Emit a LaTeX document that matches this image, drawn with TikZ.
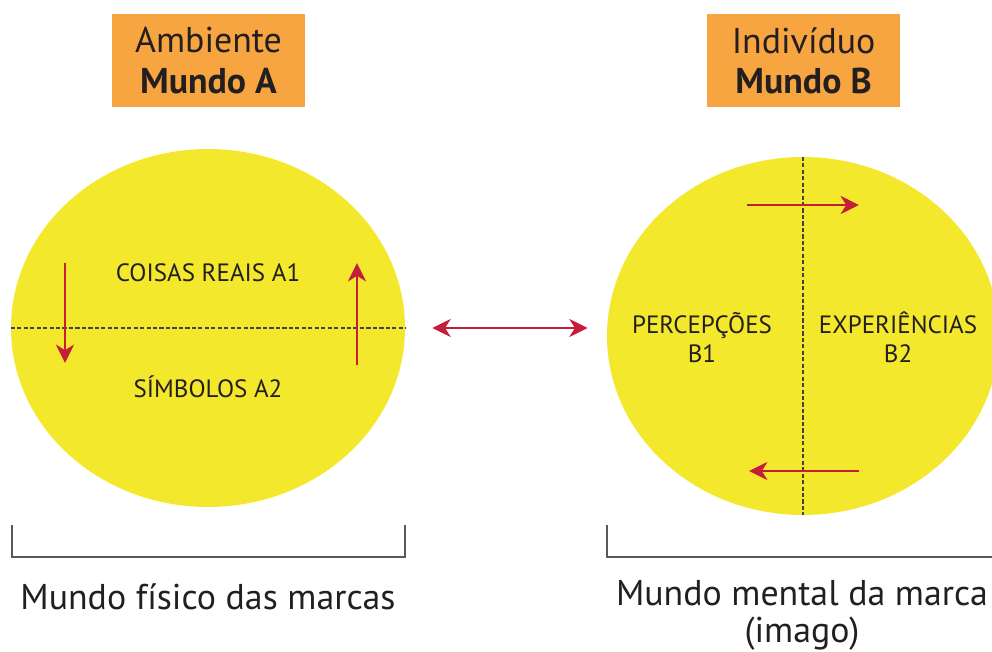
\documentclass[tikz,border=0pt]{standalone}
\usepackage{fontspec}
\setmainfont{PT Sans}
\usetikzlibrary{arrows.meta,shapes.geometric}
\definecolor{amarelo}{HTML}{F4E82C}
\definecolor{laranja}{HTML}{F7A541}
\definecolor{vermelho}{HTML}{C41E3A}
\definecolor{texto}{HTML}{231F20}
\tikzset{
  caixa/.style={fill=laranja, minimum width=4.825cm, minimum height=2.325cm, align=center, text=texto, font=\fontsize{25.5}{28.5}\selectfont},
  mundo/.style={ellipse, fill=amarelo, inner sep=0pt, minimum height=8.95cm},
  seta/.style={line width=1.7pt, color=vermelho, -{Stealth[length=4.6mm,width=4.5mm,inset=1.4mm]}},
  divisa/.style={dash pattern=on 3pt off 1.6pt, line width=0.9pt, color=texto!85},
  rotulo/.style={text=texto, align=center, font=\fontsize{17.8}{20.5}\selectfont},
  legenda/.style={text=texto, align=center, font=\fontsize{25.5}{26.3}\selectfont},
  chave/.style={line width=1.2pt, color=black!65}
}

\begin{document}
\begin{tikzpicture}
			%%%%% START %%%%%
			\useasboundingbox (0, 0) rectangle (24.8, 16.275);
			
			\node[caixa] (ambiente) at (5.2125, 14.7625) {Ambiente\\\textbf{Mundo A}};
			\node[caixa] (individuo) at (20.09, 14.7625) {Indivíduo\\\textbf{Mundo B}};
			
			\node[mundo, minimum width=9.85cm] (mundoA) at (5.2, 8.075) {};
			\node[mundo, minimum width=9.8cm] (mundoB) at (20.075, 7.875) {};
			
			\draw[divisa] (mundoA.west) -- (mundoA.east);
			\draw[divisa] (mundoB.north) -- (mundoB.south);
			
			\node[rotulo] (coisas) at (5.2, 9.45) {COISAS REAIS A1};
			\node[rotulo] (simbolos) at (5.2, 6.6) {SÍMBOLOS A2};
			\node[rotulo] (percepcoes) at (17.55, 7.84) {PERCEPÇÕES\\B1};
			\node[rotulo] (experiencias) at (22.45, 7.84) {EXPERIÊNCIAS\\B2};
			
			\draw[seta] (1.625, 9.7) -- (1.625, 7.2);
			\draw[seta] (8.925, 7.15) -- (8.925, 9.7);
			\draw[seta] (18.675, 11.15) -- (21.475, 11.15);
			\draw[seta] (21.475, 4.5) -- (18.725, 4.5);
			
			\draw[seta, {Stealth[length=4.6mm,width=4.5mm,inset=1.4mm]}-{Stealth[length=4.6mm,width=4.5mm,inset=1.4mm]}, shorten <=0.675cm, shorten >=0.475cm] (mundoA.east) -- (mundoB.west |- mundoA.east);
			
			\draw[chave] (0.3, 3.15) -- (0.3, 2.35) -- (10.125, 2.35) -- (10.125, 3.15);
			\draw[chave] (15.175, 3.15) -- (15.175, 2.35) -- (24.9, 2.35);
			
			\node[legenda] (fisico) at (5.2, 1.35) {Mundo físico das marcas};
			\node[legenda] (mental) at (20.05, 0.9) {Mundo mental da marca\\(imago)};
			%%%%% END %%%%%
\end{tikzpicture}
\end{document}
